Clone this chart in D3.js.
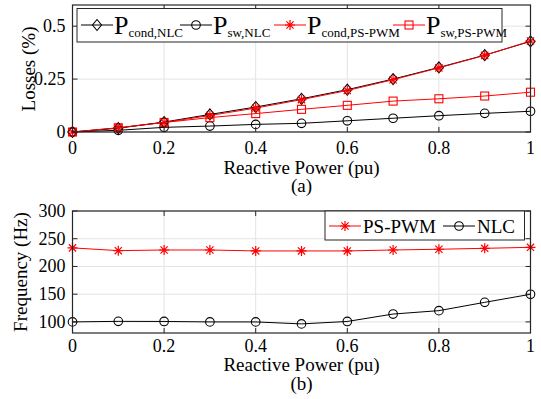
<!DOCTYPE html>
<html><head><meta charset="utf-8">
<script src="https://cdn.jsdelivr.net/npm/d3@7"></script>
<style>body{margin:0;background:#fff}</style>
</head><body><svg id="c" width="541" height="399"></svg>
<script>
const xVals = [0,0.1,0.2,0.3,0.4,0.5,0.6,0.7,0.8,0.9,1];
const condNLC = [0,0.018,0.047,0.083,0.118,0.157,0.2,0.25,0.305,0.363,0.428];
const swNLC = [0,0.008,0.022,0.028,0.036,0.041,0.053,0.065,0.077,0.088,0.098];
const condPWM = [0,0.02,0.045,0.078,0.113,0.153,0.196,0.247,0.303,0.362,0.43];
const swPWM = [0,0.02,0.045,0.068,0.087,0.107,0.126,0.146,0.157,0.17,0.188];
const freqPWM = [233.5,228.5,229.7,229.7,228,228,228,229.7,231,232.7,234.5];
const freqNLC = [100,101,100.8,100,100,96.4,100.8,114.2,120.3,135.3,149.8];
const xTicks = [0,0.2,0.4,0.6,0.8,1];
const yTicksA = [0,0.25,0.5];
const yTicksB = [100,150,200,250,300];

const FONT = "Liberation Serif";
const svg = d3.select("#c");
const L = 72.5, R = 530.5;
const x = d3.scaleLinear().domain([0,1]).range([L,R]);
const yA = d3.scaleLinear().domain([0,0.6]).range([132,5]);
const yB = d3.scaleLinear().domain([80,300]).range([333,211]);

function txt(g, xx, yy, size, s, anchor){
  return g.append("text").attr("x",xx).attr("y",yy).attr("font-family",FONT).attr("font-size",size)
    .attr("text-anchor",anchor||"start").attr("fill","#000").text(s);
}

function marker(g, type, cx, cy, color){
  if(type==="diamond"){
    g.append("path").attr("d",`M${cx},${cy-5.5}L${cx+4.5},${cy}L${cx},${cy+5.5}L${cx-4.5},${cy}Z`)
     .attr("fill","none").attr("stroke",color).attr("stroke-width",1.1);
  } else if(type==="circle"){
    g.append("circle").attr("cx",cx).attr("cy",cy).attr("r",4.3).attr("fill","none").attr("stroke",color).attr("stroke-width",1.1);
  } else if(type==="square"){
    g.append("rect").attr("x",cx-4).attr("y",cy-4).attr("width",8).attr("height",8).attr("fill","none").attr("stroke",color).attr("stroke-width",1.1);
  } else if(type==="star"){
    const r=5, d=3.6;
    g.append("path").attr("d",`M${cx-r},${cy}H${cx+r}M${cx},${cy-r}V${cy+r}M${cx-d},${cy-d}L${cx+d},${cy+d}M${cx-d},${cy+d}L${cx+d},${cy-d}`)
     .attr("stroke",color).attr("stroke-width",1.2).attr("fill","none");
  }
}

function grid(y, yTicks, top, bottom){
  const g = svg.append("g");
  xTicks.forEach(t=>{ g.append("line").attr("x1",x(t)).attr("x2",x(t)).attr("y1",top).attr("y2",bottom).attr("stroke","#e3e3e3").attr("stroke-width",1); });
  yTicks.forEach(t=>{ g.append("line").attr("x1",L).attr("x2",R).attr("y1",y(t)).attr("y2",y(t)).attr("stroke","#e3e3e3").attr("stroke-width",1); });
}

function frame(y, yTicks, top, bottom, tickBase){
  const g = svg.append("g");
  g.append("rect").attr("x",L).attr("y",top).attr("width",R-L).attr("height",bottom-top).attr("fill","none").attr("stroke","#262626").attr("stroke-width",1.2);
  const tl=5;
  xTicks.forEach(t=>{
    g.append("line").attr("x1",x(t)).attr("x2",x(t)).attr("y1",bottom).attr("y2",bottom-tl).attr("stroke","#262626");
    g.append("line").attr("x1",x(t)).attr("x2",x(t)).attr("y1",top).attr("y2",top+tl).attr("stroke","#262626");
    txt(g, x(t), tickBase, 18, String(t), "middle");
  });
  yTicks.forEach(t=>{
    g.append("line").attr("x1",L).attr("x2",L+tl).attr("y1",y(t)).attr("y2",y(t)).attr("stroke","#262626");
    g.append("line").attr("x1",R).attr("x2",R-tl).attr("y1",y(t)).attr("y2",y(t)).attr("stroke","#262626");
    txt(g, L-7, y(t)+6, 18, String(t), "end");
  });
}

function series(vals, y, color, type){
  const g = svg.append("g");
  const pts = xVals.map((xv,i)=>[x(xv), y(vals[i])]);
  g.append("path").attr("d", d3.line()(pts)).attr("fill","none").attr("stroke",color).attr("stroke-width",1);
  pts.forEach(p=>marker(g,type,p[0],p[1],color));
}

// Panel (a)
grid(yA, yTicksA, 5, 132);
series(swNLC, yA, "#000", "circle");
series(swPWM, yA, "#ff0000", "square");
series(condNLC, yA, "#000", "diamond");
series(condPWM, yA, "#ff0000", "star");
frame(yA, yTicksA, 5, 132, 153.5);

const lg = svg.append("g");
lg.append("rect").attr("x",77).attr("y",8.5).attr("width",425).attr("height",33.5).attr("fill","#fff").attr("stroke","#262626").attr("stroke-width",1);
const legA = [
  {sub:"cond,NLC", color:"#000", type:"diamond", x0:81},
  {sub:"sw,NLC", color:"#000", type:"circle", x0:180},
  {sub:"cond,PS-PWM", color:"#ff0000", type:"star", x0:274},
  {sub:"sw,PS-PWM", color:"#ff0000", type:"square", x0:393}
];
legA.forEach(e=>{
  lg.append("line").attr("x1",e.x0).attr("x2",e.x0+32).attr("y1",25).attr("y2",25).attr("stroke",e.color).attr("stroke-width",1);
  marker(lg,e.type,e.x0+16,25,e.color);
  const t = txt(lg, e.x0+33, 33.5, 26, null);
  t.append("tspan").text("P");
  t.append("tspan").attr("font-size",13).attr("dy",3).text(e.sub);
});

svg.append("text").attr("transform","translate(35,69) rotate(-90)").attr("text-anchor","middle").attr("font-family",FONT).attr("font-size",19).attr("fill","#000").text("Losses (%)");
txt(svg, x(0.5), 174, 19, "Reactive Power (pu)", "middle");
txt(svg, x(0.5), 192, 19, "(a)", "middle");

// Panel (b)
grid(yB, yTicksB, 211, 333);
series(freqNLC, yB, "#000", "circle");
series(freqPWM, yB, "#ff0000", "star");
frame(yB, yTicksB, 211, 333, 351.5);

const lb = svg.append("g");
lb.append("rect").attr("x",325).attr("y",211).attr("width",199.5).attr("height",29).attr("fill","#fff").attr("stroke","#262626").attr("stroke-width",1);
[{name:"PS-PWM",color:"#ff0000",type:"star",x0:329},{name:"NLC",color:"#000",type:"circle",x0:443}].forEach(e=>{
  lb.append("line").attr("x1",e.x0).attr("x2",e.x0+32).attr("y1",226).attr("y2",226).attr("stroke",e.color).attr("stroke-width",1);
  marker(lb,e.type,e.x0+16,226,e.color);
  txt(lb, e.x0+34, 233, 19, e.name);
});

svg.append("text").attr("transform","translate(27,272) rotate(-90)").attr("text-anchor","middle").attr("font-family",FONT).attr("font-size",19).attr("fill","#000").text("Frequency (Hz)");
txt(svg, x(0.5), 370.5, 19, "Reactive Power (pu)", "middle");
txt(svg, x(0.5), 390, 19, "(b)", "middle");
</script></body></html>
